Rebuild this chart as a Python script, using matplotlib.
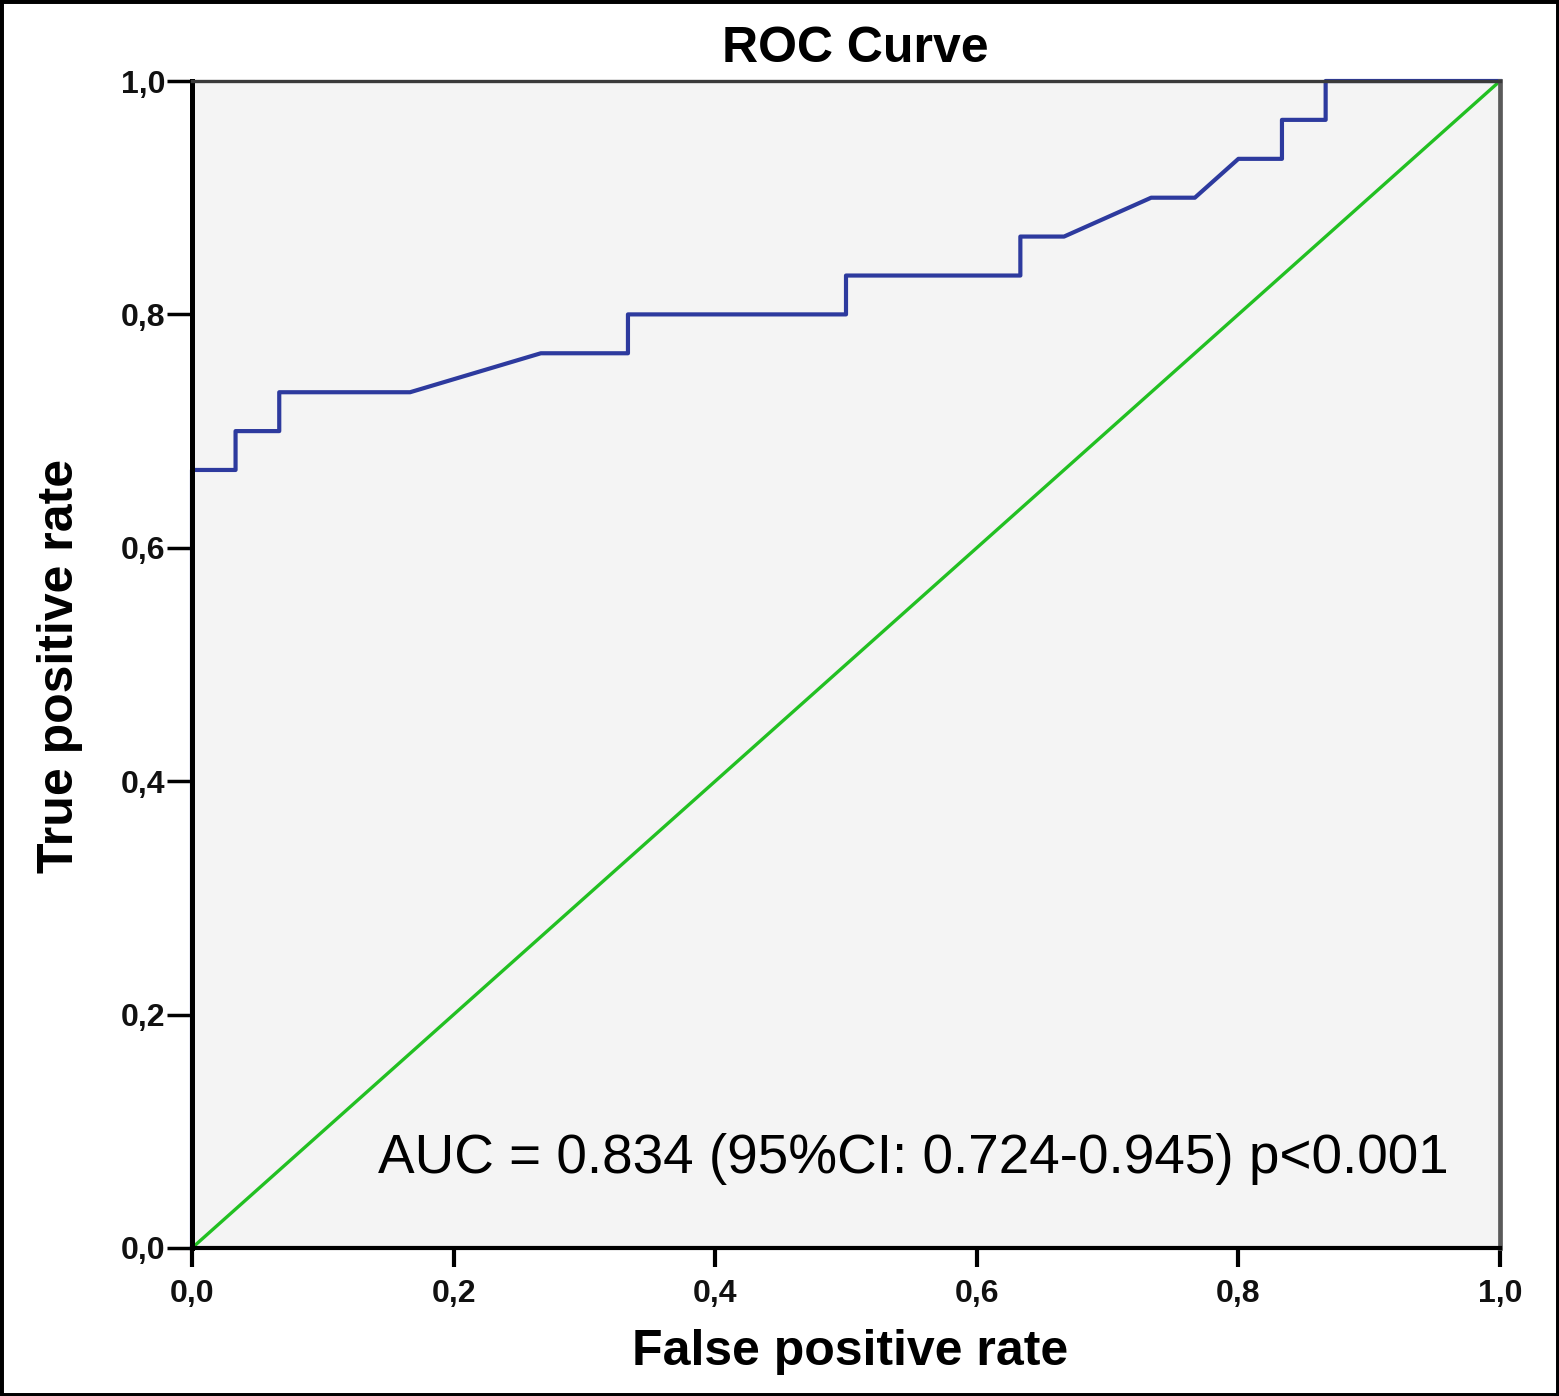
import matplotlib.pyplot as plt
from matplotlib.patches import Rectangle

plt.rcParams['font.family'] = ['Liberation Sans', 'DejaVu Sans']

# ROC curve (30 positives / 30 negatives)
fpr = [0.0, 0.0, 0.0333, 0.0333, 0.0667, 0.0667, 0.1667, 0.2667, 0.3333, 0.3333,
       0.5, 0.5, 0.6333, 0.6333, 0.6667, 0.7333, 0.7667, 0.8, 0.8333, 0.8333,
       0.8667, 0.8667, 1.0]
tpr = [0.0, 0.6667, 0.6667, 0.7, 0.7, 0.7333, 0.7333, 0.7667, 0.7667, 0.8,
       0.8, 0.8333, 0.8333, 0.8667, 0.8667, 0.9, 0.9, 0.9333, 0.9333, 0.9667,
       0.9667, 1.0, 1.0]
ref_line = [0.0, 1.0]
ticks = [0.0, 0.2, 0.4, 0.6, 0.8, 1.0]
tick_labels = ['0,0', '0,2', '0,4', '0,6', '0,8', '1,0']
auc_text = 'AUC = 0.834 (95%CI: 0.724-0.945) p<0.001'

fig = plt.figure(figsize=(15.59, 13.96), dpi=100)
ax = fig.add_axes([192 / 1559, 1 - 1248 / 1396, 1308 / 1559, 1167 / 1396])
ax.set_facecolor('#f4f4f4')

ax.plot(ref_line, ref_line, color='#22c022', linewidth=2.4)
# stays under the spines, but not clipped so the top run along 1.0 shows
ax.plot(fpr, tpr, color='#2d3a9e', linewidth=3.0, clip_on=False, zorder=2.2)

ax.set_xlim(0, 1)
ax.set_ylim(0, 1)
ax.set_xticks(ticks)
ax.set_xticklabels(tick_labels)
ax.set_yticks(ticks)
ax.set_yticklabels(tick_labels)
ax.tick_params(axis='x', length=14, width=3, pad=8, labelsize=23)
ax.tick_params(axis='y', length=18, width=2.5, pad=1, labelsize=23)
for lab in ax.get_xticklabels() + ax.get_yticklabels():
    lab.set_fontweight('bold')
    lab.set_color('#111111')

ax.spines['left'].set_linewidth(3.6)
ax.spines['left'].set_color('#000000')
ax.spines['bottom'].set_linewidth(3.0)
ax.spines['bottom'].set_color('#000000')
ax.spines['top'].set_linewidth(2.4)
ax.spines['top'].set_color('#3a3a3a')
ax.spines['right'].set_linewidth(3.4)
ax.spines['right'].set_color('#5a5a5a')

ax.text(0.142, 0.064, auc_text, fontsize=39.5, color='black')

fig.text(855 / 1559, 1 - 62 / 1396, 'ROC Curve', fontsize=36, fontweight='bold',
         ha='center', va='baseline')
fig.text(850 / 1559, 1 - 1365 / 1396, 'False positive rate', fontsize=36,
         fontweight='bold', ha='center', va='baseline')
fig.text(60 / 1559, 1 - 666 / 1396, 'True positive rate', fontsize=36,
         fontweight='bold', ha='center', va='center', rotation=90)

fig.patches.append(Rectangle((0, 0), 1, 1, transform=fig.transFigure, fill=False,
                             edgecolor='black', linewidth=5))

fig.savefig('out.png', dpi=100)
